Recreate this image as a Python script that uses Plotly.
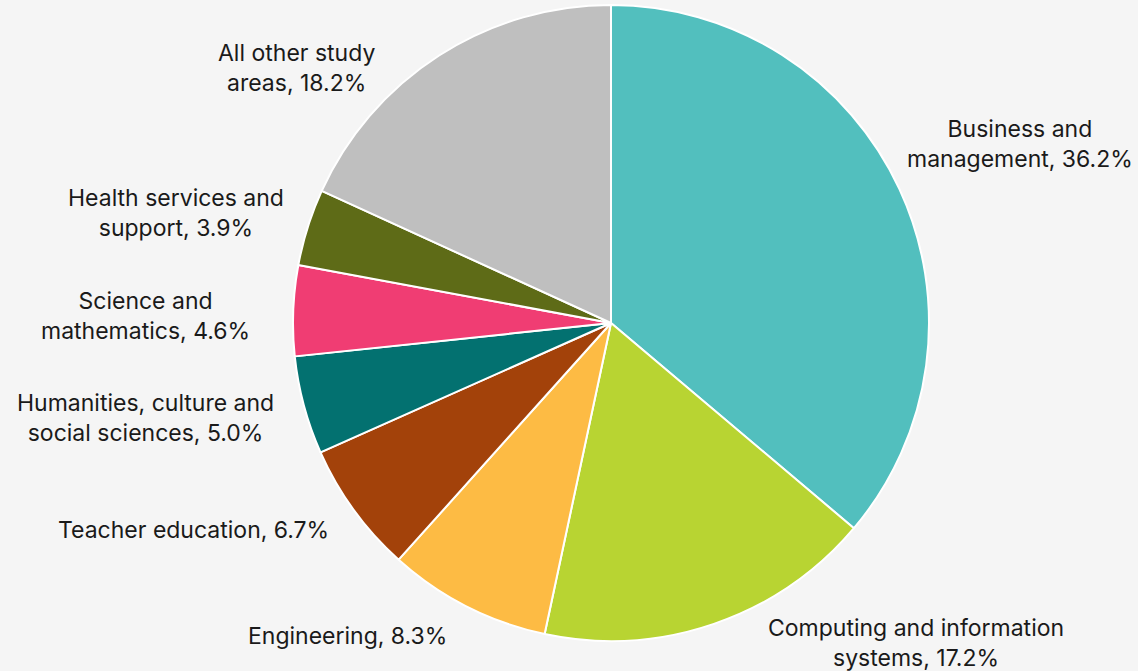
import plotly.graph_objects as go

# Share of enrolments by field of study (%)
categories = [
    "Business and<br>management",
    "Computing and information<br>systems",
    "Engineering",
    "Teacher education",
    "Humanities, culture and<br>social sciences",
    "Science and<br>mathematics",
    "Health services and<br>support",
    "All other study<br>areas",
]
values = [36.2, 17.2, 8.3, 6.7, 5.0, 4.6, 3.9, 18.2]
colors = ["#52BFBE", "#B8D432", "#FDBB44", "#A3420A",
          "#037170", "#F03D73", "#5E6B17", "#BFBFBF"]

# Label anchor points (pixel centres on the 1138x671 canvas)
label_px = [(1020, 144), (916, 643), (347, 636), (193, 530),
            (145, 418), (145, 316), (176, 213), (296, 68)]

W, H = 1138, 671
cx, cy, r = 611, 323, 318

fig = go.Figure(go.Pie(
    labels=categories,
    values=values,
    sort=False,
    direction="clockwise",
    rotation=0,
    marker=dict(colors=colors, line=dict(color="white", width=2)),
    textinfo="none",
    hoverinfo="label+percent",
    domain=dict(x=[(cx - r) / W, (cx + r) / W],
                y=[(H - cy - r) / H, (H - cy + r) / H]),
    showlegend=False,
))

for cat, val, (px, py) in zip(categories, values, label_px):
    fig.add_annotation(
        x=px / W, y=1 - py / H, xref="paper", yref="paper",
        text=f"{cat}, {val:.1f}%", showarrow=False,
        xanchor="center", yanchor="middle", align="center",
        font=dict(family="Inter, Roboto, sans-serif", size=23, color="#1a1a1a"),
    )

fig.update_layout(
    width=W, height=H,
    margin=dict(l=0, r=0, t=0, b=0),
    paper_bgcolor="#F5F5F5",
    plot_bgcolor="#F5F5F5",
)

fig.write_html("out.html")
